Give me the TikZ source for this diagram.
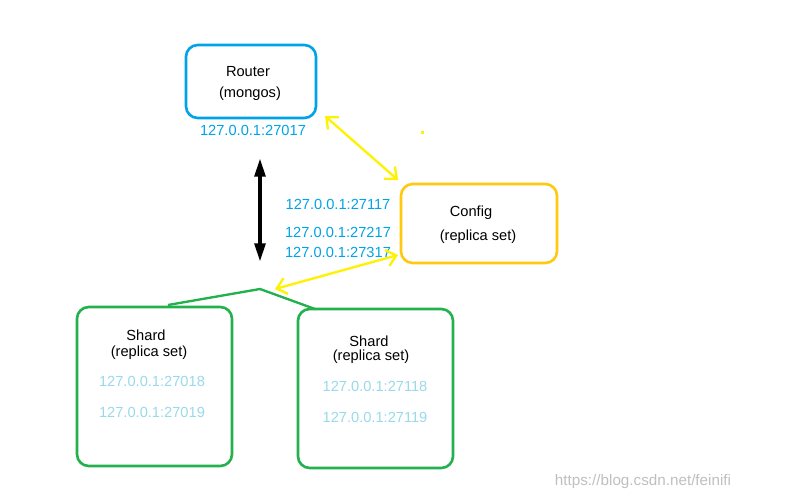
\documentclass[tikz,border=0pt]{standalone}
\usepackage{fontspec}
\setmainfont{Liberation Sans}
\usetikzlibrary{arrows.meta}
\definecolor{routerblue}{RGB}{0,162,232}
\definecolor{configgold}{RGB}{255,201,14}
\definecolor{shardgreen}{RGB}{34,177,76}
\definecolor{portblue}{RGB}{0,162,232}
\definecolor{portlight}{RGB}{153,217,234}
\definecolor{linkyellow}{RGB}{255,242,0}
\begin{document}
\begin{tikzpicture}[x=0.03cm, y=-0.03cm,
  every node/.style = {font=\fontsize{12.5}{14}\selectfont, inner sep=0pt},
  box/.style = {draw, line width=2.2pt, rounded corners=10pt},
  port/.style = {text=portblue},
  lightport/.style = {text=portlight},
  link/.style = {draw=linkyellow, line width=2pt, {Straight Barb[length=8pt,width=14pt]}-{Straight Barb[length=8pt,width=14pt]}}]
  \useasboundingbox (0,0) rectangle (800,500);
  % boxes
  \draw[box, routerblue] (186,45) rectangle (316,118);
  \draw[box, configgold] (401,184) rectangle (557,263);
  \draw[box, shardgreen] (77,307) rectangle (232,466);
  \draw[box, shardgreen] (298,309) rectangle (453,468);
  % labels
  \node (router) at (248,72) {Router};
  \node (mongos) at (250,94) {(mongos)};
  \node[port] (r1) at (253,130) {127.0.0.1:27017};
  \node (config) at (471,213) {Config};
  \node (crs) at (478,237) {(replica set)};
  \node[port] (c1) at (338,204) {127.0.0.1:27117};
  \node[port] (c2) at (338,232) {127.0.0.1:27217};
  \node[port] (c3) at (338,252) {127.0.0.1:27317};
  \node (s1) at (146,335) {Shard};
  \node (s1rs) at (149,353) {(replica set)};
  \node[lightport] (s1a) at (152,381) {127.0.0.1:27018};
  \node[lightport] (s1b) at (152,412) {127.0.0.1:27019};
  \node (s2) at (369,341) {Shard};
  \node (s2rs) at (371,357) {(replica set)};
  \node[lightport] (s2a) at (375,386) {127.0.0.1:27118};
  \node[lightport] (s2b) at (375,417) {127.0.0.1:27119};
  % connectors
  \coordinate (roof) at (260,289);
  \coordinate (roofl) at (168,305);
  \coordinate (roofr) at (315,309);
  \draw[shardgreen, line width=2pt] (roofl) -- (roof) -- (roofr);
  \coordinate (ra) at (325,116);
  \coordinate (ca) at (398,180);
  \coordinate (cb) at (398,255);
  \coordinate (sa) at (275,289);
  \draw[link] (ra) -- (ca);
  \draw[link] (cb) -- (sa);
  \coordinate (up) at (260,158);
  \coordinate (down) at (260,262);
  \draw[line width=3.5pt, {Triangle[open,length=16pt,width=9pt]}-{Triangle[open,length=16pt,width=9pt]}] (up) -- (down);
  \fill[linkyellow] (421,131) rectangle (424,134);
  \node[text=black!25, font=\fontsize{13}{15}\selectfont] (mark) at (643,482) {https://blog.csdn.net/feinifi};
\end{tikzpicture}
\end{document}
